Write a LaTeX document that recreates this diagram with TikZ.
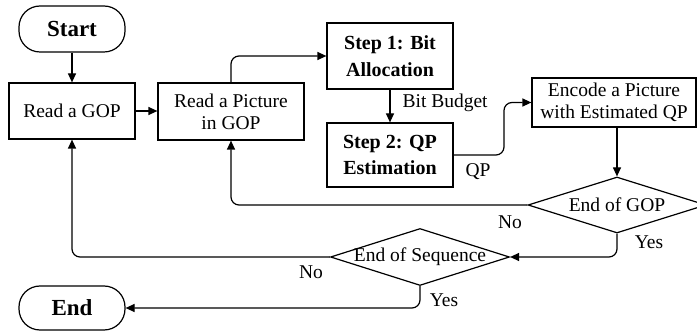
\documentclass[tikz,border=0pt]{standalone}
\usepackage{fontspec}
\setmainfont{Liberation Serif}
\usetikzlibrary{arrows.meta,shapes.geometric,calc}
\begin{document}
\begin{tikzpicture}[x=1pt,y=-1pt,
  line width=1.2pt,
  box/.style={draw,rectangle,inner sep=0pt,align=center,font=\fontsize{19.5}{22}\selectfont},
  stepbox/.style={box,font=\fontsize{20}{26.5}\selectfont\bfseries},
  term/.style={draw,rectangle,rounded corners=21pt,inner sep=0pt,font=\fontsize{23}{26}\selectfont\bfseries},
  dec/.style={draw,diamond,inner sep=0pt},
  lab/.style={font=\fontsize{19.5}{22}\selectfont,inner sep=0pt},
  arr/.style={-{Triangle[length=9pt,width=8pt]}},
  ]
\useasboundingbox (0,0) rectangle (697,331);
\node[term,minimum width=106pt,minimum height=46pt] (start) at (72,29) {Start};
\node[box,minimum width=126pt,minimum height=56pt] (rgop) at (72,111) {Read a GOP};
\node[box,minimum width=146pt,minimum height=57pt] (rpic) at (231,111.5) {Read a Picture\\in GOP};
\node[stepbox,minimum width=126pt,minimum height=66pt] (s1) at (390,56) {Step 1: Bit\\Allocation};
\node[stepbox,minimum width=126pt,minimum height=64pt] (s2) at (390,155) {Step 2: QP\\Estimation};
\node[box,minimum width=164pt,minimum height=49pt] (enc) at (614,102.5) {Encode a Picture\\with Estimated QP};
\node[dec,minimum width=178pt,minimum height=56pt] (gop) at (617,205) {};
\node[lab] (gopt) at (gop) {End of GOP};
\node[dec,minimum width=179pt,minimum height=57pt] (seq) at (420,257) {};
\node[lab] (seqt) at (seq) {End of Sequence};
\node[term,minimum width=106pt,minimum height=44pt] (end) at (72,308) {End};

\draw[arr] (start) -- (rgop);
\draw[arr] (rgop.east) -- (rgop.east -| rpic.west);
\draw[arr,rounded corners=8pt] (rpic.north) |- (s1.west);
\draw[arr] (s1) -- (s2);
\node[lab,anchor=west] (bb) at (402,103) {Bit Budget};
\coordinate (qpbend) at (504,155);
\draw[arr,rounded corners=8pt] (s2.east) -- (qpbend) |- (enc.west);
\node[lab] (qpl) at (478,172) {QP};
\draw[arr] (gop.north |- enc.south) -- (gop.north);
\draw[arr,rounded corners=8pt] (gop.west) -| (rpic.south);
\node[lab] (no1) at (510,222) {No};
\draw[arr,rounded corners=8pt] (gop.south) |- (seq.east);
\node[lab] (yes1) at (649,242) {Yes};
\draw[arr,rounded corners=8pt] (seq.west) -| (rgop.south);
\node[lab] (no2) at (311,272) {No};
\draw[arr,rounded corners=8pt] (seq.south) |- (end.east);
\node[lab] (yes2) at (444,300) {Yes};
\end{tikzpicture}
\end{document}
